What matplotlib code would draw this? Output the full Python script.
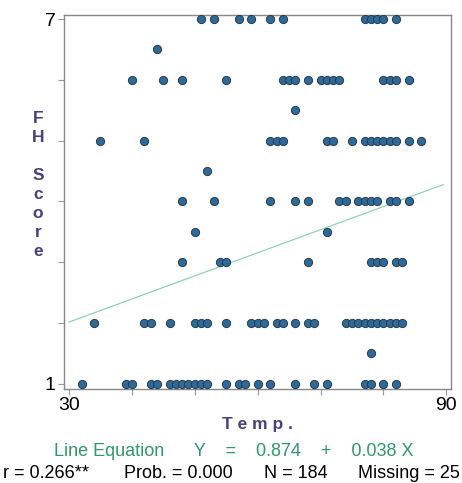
import matplotlib
matplotlib.use("Agg")
import matplotlib.pyplot as plt
import numpy as np

# Data: temperature values for each FH score level
temp_7 = [51, 53, 57, 59, 62, 64, 77, 78, 79, 80, 82]
temp_6_5 = [44]
temp_6 = [40, 45, 48, 55, 64, 65, 66, 68, 70, 71, 72, 73, 80, 81, 82, 84]
temp_5_5 = [66]
temp_5 = [35, 42, 62, 63, 64, 71, 72, 75, 77, 78, 79, 80, 81, 82, 84, 86]
temp_4_5 = [52]
temp_4 = [48, 53, 62, 66, 68, 73, 74, 76, 77, 78, 79, 81, 82, 84]
temp_3_5 = [50, 71]
temp_3 = [48, 54, 55, 68, 78, 79, 80, 82, 83]
temp_2 = [34, 42, 43, 46, 50, 51, 52, 55, 59, 60, 61, 63, 64, 66, 68, 69,
          74, 75, 76, 77, 78, 79, 80, 81, 82, 83]
temp_1_5 = [78]
temp_1 = [32, 39, 40, 43, 44, 46, 47, 48, 49, 50, 51, 52, 55, 57, 58, 60,
          62, 66, 69, 71, 77, 78, 80, 82]

score_levels = [7, 6.5, 6, 5.5, 5, 4.5, 4, 3.5, 3, 2, 1.5, 1]
temps_by_level = [temp_7, temp_6_5, temp_6, temp_5_5, temp_5, temp_4_5,
                  temp_4, temp_3_5, temp_3, temp_2, temp_1_5, temp_1]

intercept = 0.874
slope = 0.038
line_x = [30, 89.5]

x_ticks = [30, 40, 50, 60, 70, 80, 90]
x_tick_labels = ["30", "", "", "", "", "", "90"]
y_ticks = [1, 2, 3, 4, 5, 6, 7]
y_tick_labels = ["1", "", "", "", "", "", "7"]

stat_texts = ["r = 0.266**", "Prob. = 0.000", "N = 184", "Missing = 25"]
equation_text = "Line Equation      Y    =    0.874    +    0.038 X"

plt.rcParams['font.family'] = ['Liberation Sans', 'DejaVu Sans']

W, H = 462, 483
fig = plt.figure(figsize=(W / 100, H / 100), dpi=100)
ax = fig.add_axes([64 / W, 1 - 389 / H, (451 - 64) / W, (389 - 15) / H])

xs, ys = [], []
for lvl, tl in zip(score_levels, temps_by_level):
    xs.extend(tl)
    ys.extend([lvl] * len(tl))

ax.scatter(xs, ys, s=35, c="#2d6a9a", edgecolors="#2a3a4a", linewidths=0.7,
           zorder=3)
lx = np.array(line_x)
ax.plot(lx, intercept + slope * lx, color="#8fd3b3", lw=0.9, zorder=2)

ax.set_xlim(29.2, 90.75)
ax.set_ylim(0.913, 7.066)
ax.set_xticks(x_ticks)
ax.set_xticklabels(x_tick_labels)
ax.set_yticks(y_ticks)
ax.set_yticklabels(y_tick_labels)
ax.tick_params(axis='both', length=4, width=0.8, color="#999999",
               labelsize=14, pad=2)
for s in ax.spines.values():
    s.set_color("#888888")
    s.set_linewidth(1.0)

label_color = "#4b3f7f"
fig.text(38 / W, 1 - 185 / H, "F\nH\n\nS\nc\no\nr\ne", ha="center",
         va="center", fontsize=12.5, fontweight="bold", color=label_color,
         linespacing=1.34)
fig.text(257 / W, 1 - 424 / H, "T e m p .", ha="center", va="center",
         fontsize=12.5, fontweight="bold", color=label_color)

fig.text(234 / W, 1 - 452 / H, equation_text, ha="center", va="center",
         fontsize=13, color="#2e9968")

stat_x = [3, 124, 264, 358]
for t, x in zip(stat_texts, stat_x):
    fig.text(x / W, 1 - 474 / H, t, ha="left", va="center", fontsize=13,
             color="black")

fig.savefig("out.png", dpi=100)
